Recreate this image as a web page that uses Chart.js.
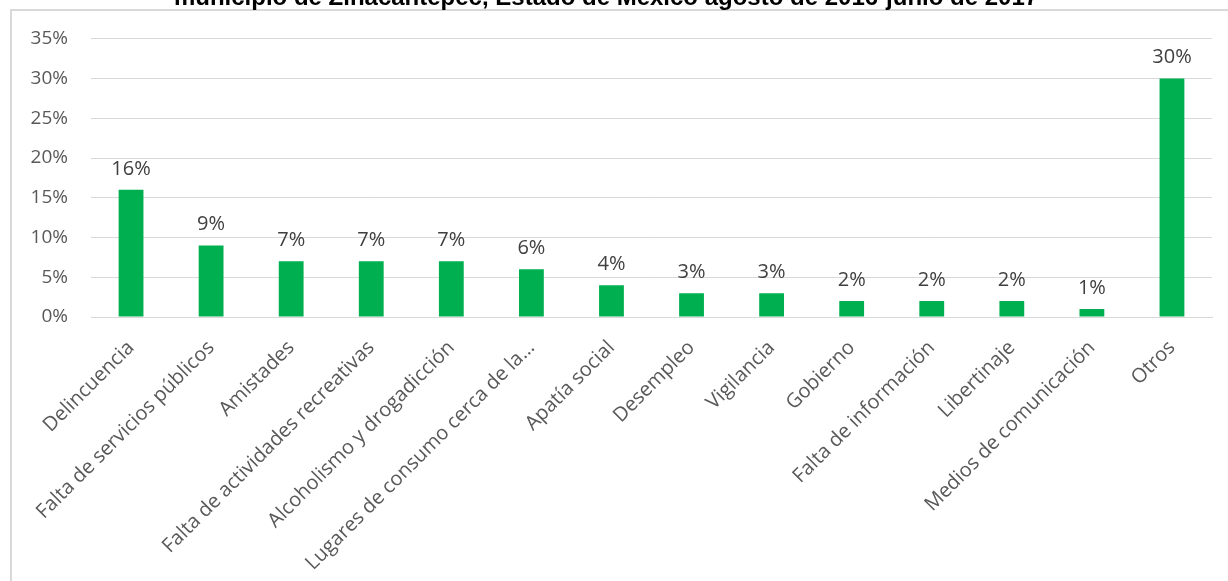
<!DOCTYPE html>
<html>
<head>
<meta charset="utf-8">
<script src="https://cdn.jsdelivr.net/npm/chart.js@4"></script>
<style>
  html, body { margin: 0; padding: 0; background: #fff; overflow: hidden; }
  #frame { position: absolute; left: 10px; top: 9px; width: 1240px; height: 600px; border-left: 2px solid #d9d9d9; border-top: 2px solid #d9d9d9; }
  #wrap { position: absolute; left: 0; top: -16px; width: 1228px; height: 597px; }
</style>
</head>
<body>
<div id="frame"></div>
<div id="wrap"><canvas id="chart"></canvas></div>
<script>
const titleText = 'municipio de Zinacantepec, Estado de México agosto de 2016-junio de 2017';
const categories = [
  'Delincuencia', 'Falta de servicios públicos', 'Amistades', 'Falta de actividades recreativas',
  'Alcoholismo y drogadicción', 'Lugares de consumo cerca de la…', 'Apatía social', 'Desempleo',
  'Vigilancia', 'Gobierno', 'Falta de información', 'Libertinaje', 'Medios de comunicación', 'Otros'
];
const values = [16, 9, 7, 7, 7, 6, 4, 3, 3, 2, 2, 2, 1, 30];
const yMax = 35;
const yStep = 5;

const barLabels = {
  id: 'barLabels',
  afterDatasetsDraw(chart) {
    const { ctx } = chart;
    const meta = chart.getDatasetMeta(0);
    ctx.save();
    ctx.font = '20px "Open Sans"';
    ctx.fillStyle = '#404040';
    ctx.textAlign = 'center';
    ctx.textBaseline = 'bottom';
    meta.data.forEach((bar, i) => {
      ctx.fillText(`${values[i]}%`, bar.x, bar.y - 11);
    });
    ctx.restore();
  }
};

new Chart(document.getElementById('chart'), {
  type: 'bar',
  data: {
    labels: categories,
    datasets: [{
      data: values,
      backgroundColor: '#00b050',
      categoryPercentage: 1,
      barPercentage: 0.31
    }]
  },
  plugins: [barLabels],
  options: {
    responsive: true,
    maintainAspectRatio: false,
    animation: false,
    layout: { padding: { left: 0, right: 16, top: 0, bottom: 0 } },
    plugins: {
      legend: { display: false },
      tooltip: { enabled: false },
      title: {
        display: true,
        text: titleText,
        color: '#000',
        font: { family: '"Liberation Sans", Arial', size: 24, weight: 'bold' },
        padding: { top: 0, bottom: 26 }
      }
    },
    scales: {
      x: {
        grid: { display: false },
        border: { color: '#d9d9d9' },
        ticks: {
          color: '#595959',
          font: { family: '"Open Sans"', size: 20 },
          minRotation: 45,
          maxRotation: 45,
          autoSkip: false,
          padding: 11
        },
        afterFit: (scale) => { scale.height = 264; }
      },
      y: {
        min: 0,
        max: yMax,
        grid: { color: '#d9d9d9', drawTicks: false },
        border: { display: false },
        ticks: {
          stepSize: yStep,
          color: '#595959',
          font: { family: '"Open Sans"', size: 19 },
          padding: 23,
          callback: (v) => `${v}%`
        },
        afterFit: (scale) => { scale.width = 91; }
      }
    }
  }
});
</script>
</body>
</html>
